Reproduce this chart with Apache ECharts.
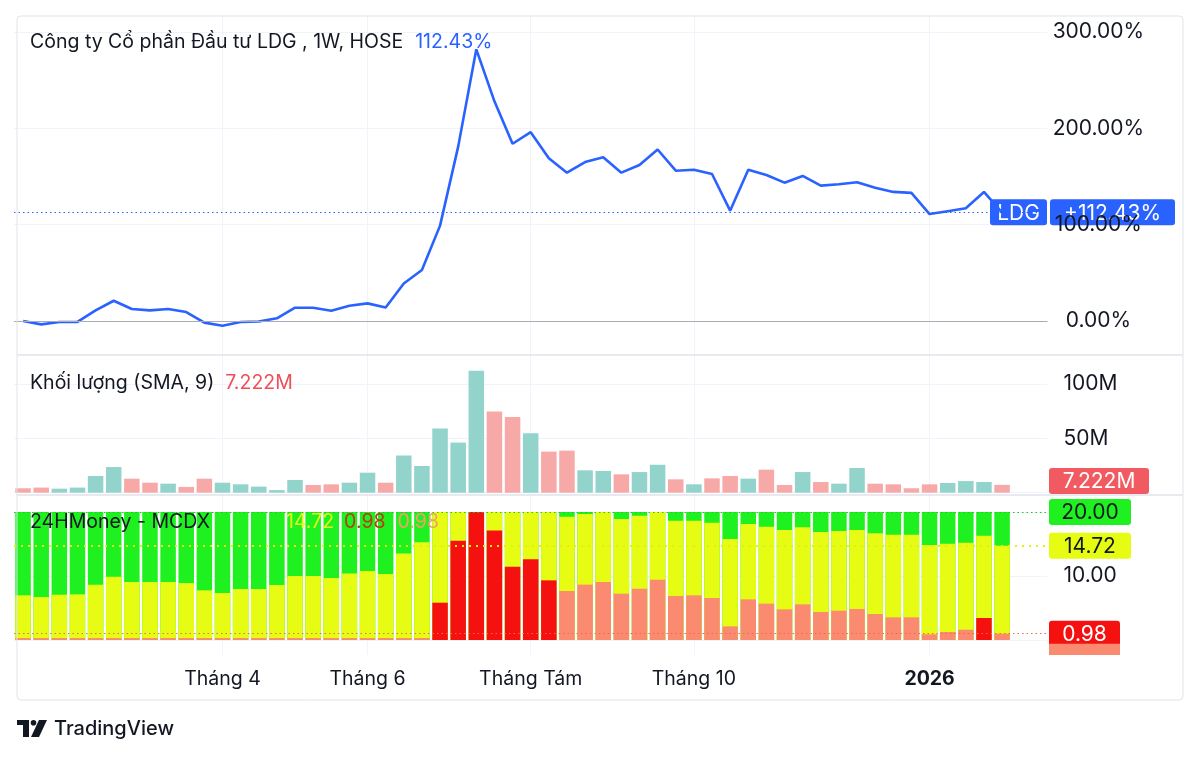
<!DOCTYPE html>
<html>
<head>
<meta charset="utf-8">
<title>LDG, 1W, HOSE</title>
<script src="https://cdn.jsdelivr.net/npm/echarts@6/dist/echarts.min.js"></script>
<style>
html, body { margin: 0; padding: 0; background: #fff; }
#main { width: 1200px; height: 758px; }
</style>
</head>
<body>
<div id="main"></div>
<script>
// các tuần (nến tuần, thứ Hai)
var weeks = [
  '2025-01-20', '2025-01-27', '2025-02-03', '2025-02-10', '2025-02-17', '2025-02-24',
  '2025-03-03', '2025-03-10', '2025-03-17', '2025-03-24', '2025-03-31', '2025-04-07',
  '2025-04-14', '2025-04-21', '2025-04-28', '2025-05-05', '2025-05-12', '2025-05-19',
  '2025-05-26', '2025-06-02', '2025-06-09', '2025-06-16', '2025-06-23', '2025-06-30',
  '2025-07-07', '2025-07-14', '2025-07-21', '2025-07-28', '2025-08-04', '2025-08-11',
  '2025-08-18', '2025-08-25', '2025-09-01', '2025-09-08', '2025-09-15', '2025-09-22',
  '2025-09-29', '2025-10-06', '2025-10-13', '2025-10-20', '2025-10-27', '2025-11-03',
  '2025-11-10', '2025-11-17', '2025-11-24', '2025-12-01', '2025-12-08', '2025-12-15',
  '2025-12-22', '2025-12-29', '2026-01-05', '2026-01-12', '2026-01-19', '2026-01-26',
  '2026-02-02'
];
// khoảng trống bên phải
var emptyWeeks = ['2026-02-09', '2026-02-16'];

// nhãn trục thời gian
var tickWeeks = ['2025-04-07', '2025-06-02', '2025-08-04', '2025-10-06', '2026-01-05'];
var tickLabels = ['Tháng 4', 'Tháng 6', 'Tháng Tám', 'Tháng 10', '2026'];

// % thay đổi giá so với tuần đầu
var priceChange = [
  0, -3.5, -1, -1, 11, 21, 12.5, 11, 12.5, 9.3,
  -1.7, -5, -1, -0.5, 2.8, 13.8, 13.8, 10.7, 15.9, 18.3,
  14.1, 39, 53, 99, 181, 282, 228, 184, 196, 169,
  154, 165, 170, 154, 162, 178, 156, 157, 152.6, 114.5,
  157, 151.6, 143.6, 150.6, 140.5, 142, 144, 138.4, 134, 133,
  111, 114, 117, 134, 112.43
];

// khối lượng (triệu cp)
var volume = [
  4.1, 4.7, 3.7, 4.7, 15.4, 23.6, 12.9, 9.2, 8.3, 5.3,
  12.9, 9.2, 7.7, 5.6, 2.4, 11.7, 7.1, 7.7, 9.2, 18.4,
  9.2, 34.2, 24.6, 59, 46.1, 112.1, 74.7, 69.6, 54.8, 37.8,
  38.7, 20.6, 20, 16.9, 19, 25.7, 12.3, 7.7, 13.2, 15.4,
  12.9, 21.2, 7.1, 19, 9.8, 8.3, 22.7, 8.3, 7.7, 4.1,
  7.7, 8.9, 10.7, 9.8, 7.222
];
// 1 = nến tăng, 0 = nến giảm
var volumeUp = [
  0, 0, 1, 1, 1, 1, 0, 0, 1, 0,
  0, 1, 1, 1, 1, 1, 0, 0, 1, 1,
  0, 1, 1, 1, 1, 1, 0, 0, 1, 0,
  0, 1, 1, 0, 1, 1, 0, 1, 0, 0,
  1, 0, 0, 1, 0, 1, 1, 0, 0, 0,
  0, 1, 1, 1, 0
];

// MCDX: nhỏ lẻ (xanh), tiền nóng (vàng), cá mập (đỏ)
var mcdxRetail = [
  20, 20, 20, 20, 20, 20, 20, 20, 20, 20,
  20, 20, 20, 20, 20, 20, 20, 20, 20, 20,
  20, 20, 20, 20, 20, 20, 20, 20, 20, 20,
  20, 20, 20, 20, 20, 20, 20, 20, 20, 20,
  20, 20, 20, 20, 20, 20, 20, 20, 20, 20,
  20, 20, 20, 20, 20
];
var mcdxHot = [
  6.98, 6.72, 7.08, 7.13, 8.65, 9.9, 9.06, 9.06, 9.06, 8.9,
  7.76, 7.34, 7.97, 7.97, 8.6, 10, 10, 9.69, 10.4, 10.78,
  10.3, 13.5, 15.26, 20, 20, 20, 20, 20, 20, 20,
  19.27, 19.7, 20, 18.9, 19.4, 20, 18.65, 18.65, 18.33, 15.78,
  18.13, 17.71, 17.19, 17.6, 16.88, 17.03, 17.19, 16.67, 16.46, 16.46,
  14.84, 15.05, 15.21, 16.3, 14.72
];
var mcdxBanker = [
  0.3, 0.3, 0.3, 0.3, 0.3, 0.3, 0.3, 0.3, 0.3, 0.3,
  0.3, 0.3, 0.3, 0.3, 0.3, 0.3, 0.3, 0.3, 0.3, 0.3,
  0.3, 0.3, 0.3, 5.83, 15.5, 20, 17.1, 11.45, 12.6, 9.32,
  7.66, 8.65, 9.06, 7.24, 8.02, 9.43, 6.88, 6.98, 6.56, 2.13,
  6.35, 5.68, 4.79, 5.57, 4.38, 4.58, 4.84, 4.06, 3.54, 3.54,
  0.89, 1.25, 1.61, 3.44, 0.98
];
// tuần cá mập mạnh (đỏ tươi)
var bankerStrong = [23, 24, 25, 26, 27, 28, 29, 53];

var myChart = echarts.init(document.getElementById('main'));

var font = 'Inter, "Noto Sans", sans-serif';
var textColor = '#131722';
var gridColor = '#f0f3fa';
var borderColor = '#e0e3eb';
var blue = '#2962ff';
var green = '#1ff01f', yellow = '#e6fc12', red = '#f5110f', salmon = '#fa8a70';
var titleFont = '19.5px ' + font;
var scaleFont = '21px ' + font;

var allWeeks = weeks.concat(emptyWeeks);
var slot = 18.13;
var plotLeft = 14;
var plotRight = 1200 - (plotLeft + slot * allWeeks.length);
var lastPrice = priceChange[priceChange.length - 1];
var lastVol = volume[volume.length - 1];
var lastHot = mcdxHot[mcdxHot.length - 1];
var lastBanker = mcdxBanker[mcdxBanker.length - 1];
var lastRetail = mcdxRetail[mcdxRetail.length - 1];

function hiddenX(gridIndex) {
  return {
    type: 'category', gridIndex: gridIndex, data: allWeeks, boundaryGap: true,
    axisLine: { show: false }, axisTick: { show: false }, axisLabel: { show: false },
    splitLine: { show: false }
  };
}

function rightY(gridIndex, min, max, interval, fmt, margin, align) {
  return {
    type: 'value', gridIndex: gridIndex, position: 'right', min: min, max: max, interval: interval,
    axisLine: { show: false }, axisTick: { show: false },
    axisLabel: { color: textColor, fontSize: 21, fontFamily: font, margin: margin, align: align, formatter: fmt },
    splitLine: { lineStyle: { color: gridColor, width: 1 } }
  };
}

var option = {
  animation: false,
  backgroundColor: '#ffffff',
  grid: [
    { left: plotLeft, right: plotRight, top: 32, height: 289 },     // giá
    { left: plotLeft, right: plotRight, top: 384, height: 108.7 },  // khối lượng
    { left: plotLeft, right: plotRight, top: 512, height: 128 },    // MCDX
    { left: plotLeft + slot / 2, right: plotRight + slot / 2, top: 16, height: 639 } // lưới dọc + trục thời gian
  ],
  xAxis: [
    hiddenX(0), hiddenX(1), hiddenX(2),
    {
      type: 'category', gridIndex: 3, data: allWeeks, boundaryGap: false,
      axisLine: { show: false }, axisTick: { show: false },
      splitLine: {
        show: true,
        interval: function (i, v) { return tickWeeks.indexOf(v) >= 0; },
        lineStyle: { color: gridColor, width: 1 }
      },
      axisLabel: {
        interval: function (i, v) { return tickWeeks.indexOf(v) >= 0; },
        margin: 14, color: textColor, fontSize: 19.5, fontFamily: font,
        formatter: function (v) {
          var k = tickWeeks.indexOf(v);
          if (k < 0) return '';
          return tickLabels[k] === '2026' ? '{b|2026}' : tickLabels[k];
        },
        rich: { b: { fontWeight: 'bold', fontSize: 19.5, fontFamily: font, color: textColor } }
      }
    }
  ],
  yAxis: [
    rightY(0, 0, 300, 100, function (v) { return v.toFixed(2) + '%'; }, 51, 'center'),
    rightY(1, 0, 100, 50, function (v) { return v ? v + 'M' : ''; }, 16, 'left'),
    rightY(2, 0, 20, 10, function (v) { return v === 10 ? '10.00' : ''; }, 16, 'left'),
    { type: 'value', gridIndex: 3, show: false }
  ],
  series: [
    {
      name: 'LDG', type: 'line', xAxisIndex: 0, yAxisIndex: 0, data: priceChange,
      symbol: 'none', clip: false, z: 3,
      lineStyle: { color: blue, width: 2.6 },
      markLine: {
        silent: true, symbol: 'none', label: { show: false },
        data: [
          { yAxis: 0, lineStyle: { color: '#a9acb5', width: 1.2, type: 'solid' } },
          { yAxis: lastPrice, lineStyle: { color: blue, width: 1.2, type: [1.5, 3] } }
        ]
      }
    },
    {
      name: 'Khối lượng', type: 'bar', xAxisIndex: 1, yAxisIndex: 1, barWidth: 15.5, clip: false,
      data: volume.map(function (v, i) {
        return { value: v, itemStyle: { color: volumeUp[i] ? '#92d3cb' : '#f7a9a8' } };
      })
    },
    {
      name: 'Nhỏ lẻ', type: 'bar', xAxisIndex: 2, yAxisIndex: 2, barWidth: 15.5, barGap: '-100%',
      data: mcdxRetail, itemStyle: { color: green }
    },
    {
      name: 'Tiền nóng', type: 'bar', xAxisIndex: 2, yAxisIndex: 2, barWidth: 15.5, barGap: '-100%',
      data: mcdxHot, itemStyle: { color: yellow }
    },
    {
      name: 'Cá mập', type: 'bar', xAxisIndex: 2, yAxisIndex: 2, barWidth: 15.5, barGap: '-100%',
      data: mcdxBanker.map(function (v, i) {
        return { value: v, itemStyle: { color: bankerStrong.indexOf(i) >= 0 ? red : salmon } };
      }),
      markLine: {
        silent: true, symbol: 'none', label: { show: false },
        data: [
          { yAxis: lastRetail, lineStyle: { color: '#22c922', width: 1.2, type: [1.5, 3] } },
          { yAxis: lastHot, lineStyle: { color: '#e3ef10', width: 2, type: [2, 5] } },
          { yAxis: lastBanker, lineStyle: { color: '#f06a4a', width: 1.2, type: [1.5, 3] } }
        ]
      }
    }
  ]
};

myChart.setOption(option);

// nhãn giá bên phải, vị trí theo trục
function yPix(axis, v) { return myChart.convertToPixel({ yAxisIndex: axis }, v); }

function tag(x, yc, w, fill, text, color) {
  return {
    type: 'group', z: 100, children: [
      { type: 'rect', shape: { x: x, y: yc - 13, width: w, height: 26, r: 3 }, style: { fill: fill } },
      { type: 'text', x: x + w / 2, y: yc + 1,
        style: { text: text, fill: color, font: scaleFont, align: 'center', verticalAlign: 'middle' } }
    ]
  };
}

var yLast = yPix(0, lastPrice);
var yVol = Math.min(yPix(1, lastVol), 495 - 14);
var yRetail = yPix(2, lastRetail);
var yHot = yPix(2, lastHot);
var yBanker = yPix(2, lastBanker);

var graphics = [
  // khung và vạch chia các khung
  { type: 'rect', z: 50, shape: { x: 17, y: 16, width: 1166, height: 684, r: 4 },
    style: { fill: 'none', stroke: borderColor, lineWidth: 1 } },
  { type: 'line', z: 50, shape: { x1: 17, y1: 355, x2: 1183, y2: 355 }, style: { stroke: borderColor, lineWidth: 1.5 } },
  { type: 'line', z: 50, shape: { x1: 17, y1: 495, x2: 1183, y2: 495 }, style: { stroke: borderColor, lineWidth: 1.5 } },

  // tiêu đề các khung
  { type: 'text', z: 60, x: 30, y: 42, style: {
      text: '{a|Công ty Cổ phần Đầu tư LDG , 1W, HOSE}{b|' + lastPrice.toFixed(2) + '%}',
      verticalAlign: 'middle',
      rich: {
        a: { font: titleFont, fill: textColor, color: textColor },
        b: { font: titleFont, fill: blue, color: blue, padding: [0, 0, 0, 12] }
      } } },
  { type: 'text', z: 60, x: 30, y: 383, style: {
      text: '{a|Khối lượng (SMA, 9)}{b|' + lastVol.toFixed(3) + 'M}',
      verticalAlign: 'middle',
      rich: {
        a: { font: titleFont, fill: textColor, color: textColor },
        b: { font: titleFont, fill: '#ef4f58', color: '#ef4f58', padding: [0, 0, 0, 11] }
      } } },
  { type: 'text', z: 60, x: 30, y: 522, style: {
      text: '{a|24HMoney - MCDX}{h|' + lastHot.toFixed(2) + '}{r|' + lastBanker.toFixed(2) + '}{s|' + lastBanker.toFixed(2) + '}',
      verticalAlign: 'middle',
      rich: {
        a: { font: titleFont, fill: textColor, color: textColor },
        h: { font: titleFont, fill: '#e4f51a', color: '#e4f51a', padding: [0, 0, 0, 76] },
        r: { font: titleFont, fill: '#b93c16', color: '#b93c16', padding: [0, 0, 0, 10] },
        s: { font: titleFont, fill: '#f2a266', color: '#f2a266', padding: [0, 0, 0, 12] }
      } } },

  // nhãn giá cuối
  tag(990, yLast - 0.5, 57, blue, 'LDG', '#ffffff'),
  tag(1050, yLast - 0.5, 125, blue, '+' + lastPrice.toFixed(2) + '%', '#ffffff'),
  tag(1049, yVol, 100, '#f15a60', lastVol.toFixed(3) + 'M', '#ffffff'),
  tag(1049, yRetail, 82, green, lastRetail.toFixed(2), textColor),
  tag(1049, yHot, 82, yellow, lastHot.toFixed(2), textColor),
  { type: 'rect', z: 99, shape: { x: 1049, y: yBanker + 10, width: 71, height: 655 - yBanker - 10 },
    style: { fill: salmon } },
  tag(1049, yBanker, 71, red, lastBanker.toFixed(2), '#ffffff'),

  // logo TradingView
  { type: 'group', z: 60, children: [
    { type: 'rect', shape: { x: 17, y: 720, width: 12, height: 5 }, style: { fill: textColor } },
    { type: 'rect', shape: { x: 23, y: 720, width: 6, height: 17 }, style: { fill: textColor } },
    { type: 'circle', shape: { cx: 33.5, cy: 722.8, r: 2.8 }, style: { fill: textColor } },
    { type: 'polygon', shape: { points: [[39, 720], [47, 720], [39, 737], [31, 737]] }, style: { fill: textColor } },
    { type: 'text', x: 54, y: 729, style: { text: 'TradingView', font: '500 20px ' + font, fill: textColor, verticalAlign: 'middle' } }
  ] }
];

myChart.setOption({ graphic: graphics });
</script>
</body>
</html>
